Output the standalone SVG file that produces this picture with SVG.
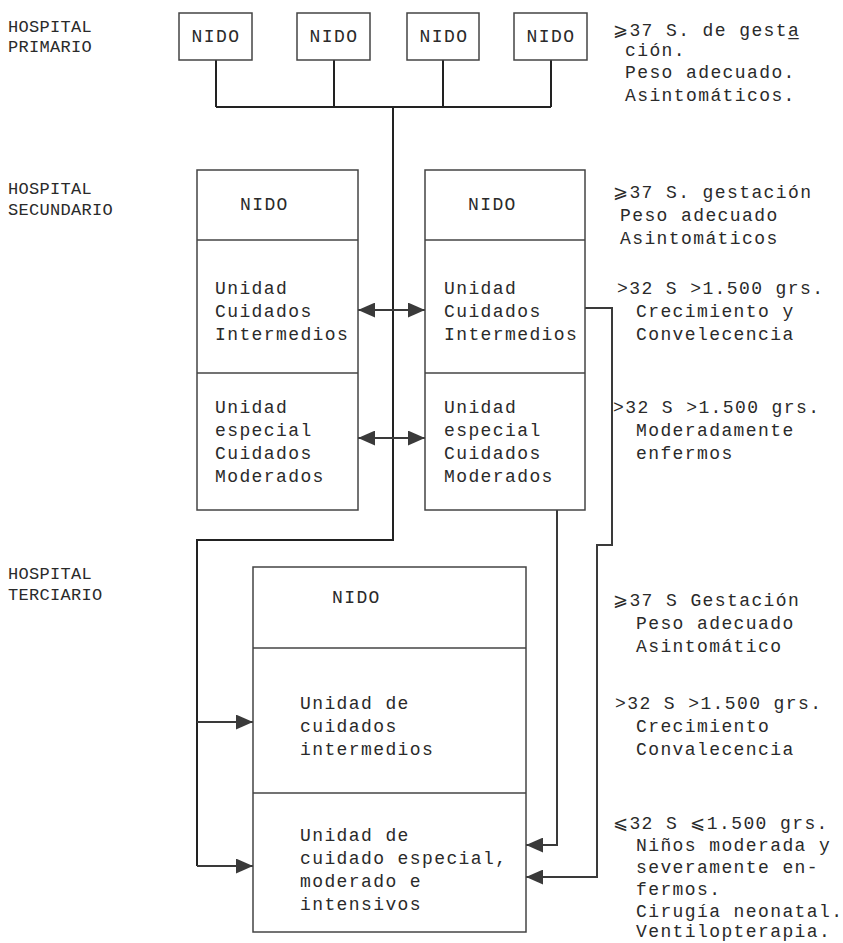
<svg xmlns="http://www.w3.org/2000/svg" width="843" height="943" viewBox="0 0 843 943">
<defs>
<marker id="ah" viewBox="0 0 16 14" refX="16" refY="7" markerWidth="17" markerHeight="15" markerUnits="userSpaceOnUse" orient="auto-start-reverse">
<path d="M0,0 L16,7 L0,14 z" fill="#3a3a3a"/>
</marker>
<style>
.t{font-family:"Liberation Mono","DejaVu Sans Mono",monospace;font-size:18px;letter-spacing:1.4px;fill:#2a2a2a}
.h{font-family:"Liberation Mono","DejaVu Sans Mono",monospace;font-size:17px;letter-spacing:0.3px;fill:#2a2a2a}
.box{fill:#fff;stroke:#444;stroke-width:1.5}
.div{stroke:#444;stroke-width:1.5}
.c{fill:none;stroke:#222;stroke-width:2}
.a{fill:none;stroke:#3a3a3a;stroke-width:2}
</style>
</defs>
<rect width="843" height="943" fill="#fff"/>

<g id="labels">
<text class="h" x="8" y="32">HOSPITAL</text>
<text class="h" x="8" y="52">PRIMARIO</text>
<text class="h" x="8" y="194">HOSPITAL</text>
<text class="h" x="8" y="215">SECUNDARIO</text>
<text class="h" x="8" y="579">HOSPITAL</text>
<text class="h" x="8" y="600">TERCIARIO</text>
</g>

<g id="connectors">
<path class="c" d="M216,60 V107 M334,60 V107 M443,60 V107 M551,60 V107 M216,107 H551 M393,107 V540 H197 V866"/>
<path class="a" d="M197,866 H253" marker-end="url(#ah)"/>
<path class="a" d="M197,722 H253" marker-end="url(#ah)"/>
<path class="a" d="M358,310 H425" marker-start="url(#ah)" marker-end="url(#ah)"/>
<path class="a" d="M358,438 H425" marker-start="url(#ah)" marker-end="url(#ah)"/>
<path class="a" d="M557,510 V845 H526" marker-end="url(#ah)"/>
<path class="a" d="M585,308 H612 V545 H597 V877 H526" marker-end="url(#ah)"/>
</g>

<g id="primario-nidos">
<g id="nido1"><rect class="box" x="179" y="13" width="73" height="47"/><text class="t" x="216" y="42" text-anchor="middle">NIDO</text></g>
<g id="nido2"><rect class="box" x="297" y="13" width="73" height="47"/><text class="t" x="334" y="42" text-anchor="middle">NIDO</text></g>
<g id="nido3"><rect class="box" x="407" y="13" width="72" height="47"/><text class="t" x="444" y="42" text-anchor="middle">NIDO</text></g>
<g id="nido4"><rect class="box" x="514" y="13" width="73" height="47"/><text class="t" x="551" y="42" text-anchor="middle">NIDO</text></g>
</g>

<g id="secundario-izq">
<rect class="box" x="197" y="170" width="161" height="340"/>
<line class="div" x1="197" y1="240" x2="358" y2="240"/>
<line class="div" x1="197" y1="373" x2="358" y2="373"/>
<text class="t" x="240" y="210">NIDO</text>
<text class="t" x="215" y="294">Unidad</text>
<text class="t" x="215" y="317">Cuidados</text>
<text class="t" x="215" y="340">Intermedios</text>
<text class="t" x="215" y="413">Unidad</text>
<text class="t" x="215" y="436">especial</text>
<text class="t" x="215" y="459">Cuidados</text>
<text class="t" x="215" y="482">Moderados</text>
</g>

<g id="secundario-der">
<rect class="box" x="425" y="170" width="160" height="340"/>
<line class="div" x1="425" y1="240" x2="585" y2="240"/>
<line class="div" x1="425" y1="373" x2="585" y2="373"/>
<text class="t" x="468" y="210">NIDO</text>
<text class="t" x="444" y="294">Unidad</text>
<text class="t" x="444" y="317">Cuidados</text>
<text class="t" x="444" y="340">Intermedios</text>
<text class="t" x="444" y="413">Unidad</text>
<text class="t" x="444" y="436">especial</text>
<text class="t" x="444" y="459">Cuidados</text>
<text class="t" x="444" y="482">Moderados</text>
</g>

<g id="terciario">
<rect class="box" x="253" y="567" width="273" height="365"/>
<line class="div" x1="253" y1="648" x2="526" y2="648"/>
<line class="div" x1="253" y1="793" x2="526" y2="793"/>
<text class="t" x="332" y="603">NIDO</text>
<text class="t" x="300" y="709">Unidad de</text>
<text class="t" x="300" y="732">cuidados</text>
<text class="t" x="300" y="755">intermedios</text>
<text class="t" x="300" y="841">Unidad de</text>
<text class="t" x="300" y="864">cuidado especial,</text>
<text class="t" x="300" y="887">moderado e</text>
<text class="t" x="300" y="910">intensivos</text>
</g>

<g id="notas">
<text class="t" x="613" y="36">⩾37 S. de gesta&#x332;</text>
<text class="t" x="625" y="56">ción.</text>
<text class="t" x="625" y="78">Peso adecuado.</text>
<text class="t" x="625" y="101">Asintomáticos.</text>

<text class="t" x="613" y="198">⩾37 S. gestación</text>
<text class="t" x="620" y="221">Peso adecuado</text>
<text class="t" x="620" y="244">Asintomáticos</text>
<text class="t" x="617" y="294">&gt;32 S &gt;1.500 grs.</text>
<text class="t" x="636" y="317">Crecimiento y</text>
<text class="t" x="636" y="340">Convelecencia</text>
<text class="t" x="613" y="413">&gt;32 S &gt;1.500 grs.</text>
<text class="t" x="636" y="436">Moderadamente</text>
<text class="t" x="636" y="459">enfermos</text>

<text class="t" x="613" y="606">⩾37 S Gestación</text>
<text class="t" x="636" y="629">Peso adecuado</text>
<text class="t" x="636" y="652">Asintomático</text>
<text class="t" x="615" y="709">&gt;32 S &gt;1.500 grs.</text>
<text class="t" x="636" y="732">Crecimiento</text>
<text class="t" x="636" y="755">Convalecencia</text>
<text class="t" x="613" y="829">⩽32 S ⩽1.500 grs.</text>
<text class="t" x="636" y="851">Niños moderada y</text>
<text class="t" x="636" y="873">severamente en-</text>
<text class="t" x="636" y="895">fermos.</text>
<text class="t" x="636" y="917">Cirugía neonatal.</text>
<text class="t" x="636" y="937">Ventilopterapia.</text>
</g>
</svg>
